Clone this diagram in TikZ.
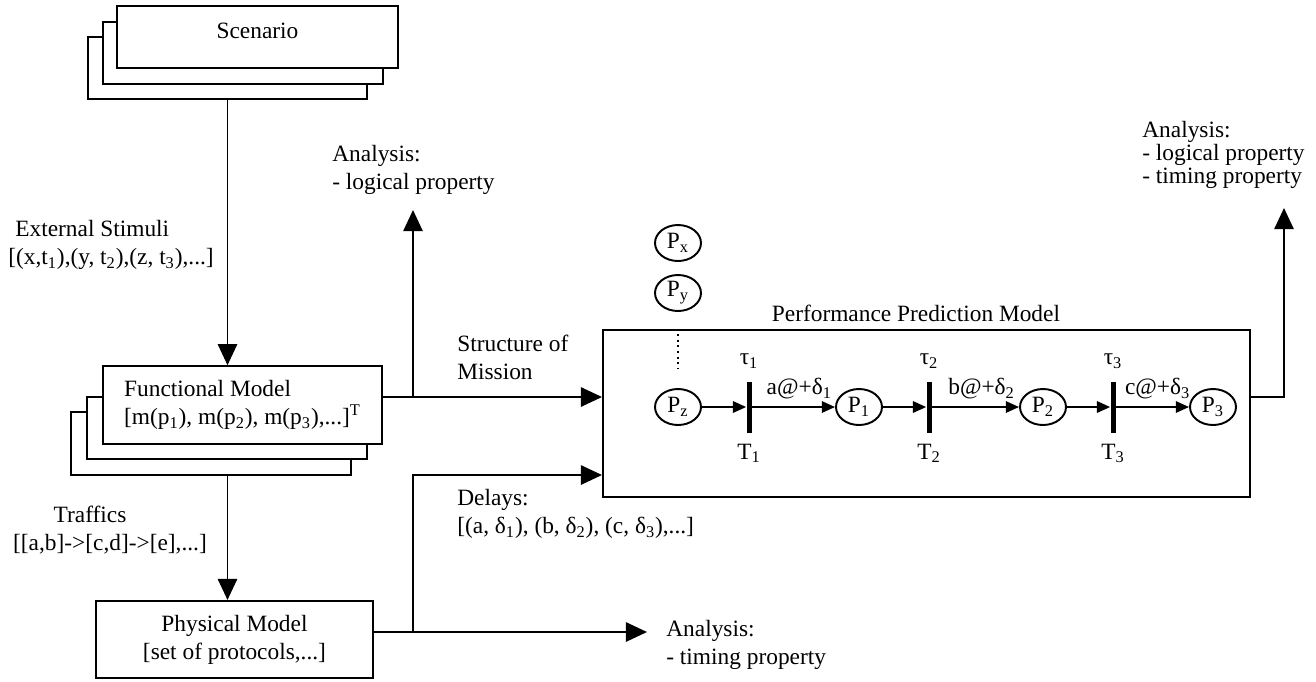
\documentclass[tikz,border=0pt]{standalone}
\usepackage{fontspec}
\setmainfont{Liberation Serif}
\usetikzlibrary{arrows.meta,positioning,shapes.geometric}

\tikzset{
  box/.style={draw,fill=white,line width=0.9pt,inner sep=0pt,align=center},
  place/.style={ellipse,draw,line width=1.1pt,minimum width=0.92cm,minimum height=0.72cm,inner sep=0pt},
  bar/.style={fill=black,minimum width=0.1cm,minimum height=1.02cm,inner sep=0pt},
  arr/.style={-{Triangle[length=12pt,width=11pt]},line width=1pt},
  parr/.style={-{Triangle[length=7.5pt,width=6.5pt]},line width=1pt},
  lbl/.style={inner sep=0pt,align=left}
}

\begin{document}
\begin{tikzpicture}[x=0.02cm,y=-0.02cm,font=\fontsize{13.3pt}{16pt}\selectfont]
\useasboundingbox (0,0) rectangle (1316,681);

\node[box,minimum width=5.58cm,minimum height=1.24cm] (scen3) at (227.5,68) {};
\node[box,minimum width=5.6cm,minimum height=1.24cm] (scen2) at (243,53) {};
\node[box,minimum width=5.62cm,minimum height=1.24cm,text depth=7pt] (scen) at (257.5,37) {Scenario};

\node[box,minimum width=5.6cm,minimum height=1.26cm] (func3) at (211,443.5) {};
\node[box,minimum width=5.6cm,minimum height=1.24cm] (func2) at (227,428) {};
\node[box,align=left,minimum width=5.58cm,minimum height=1.56cm] (func) at (242.5,405) {Functional Model\\{}[m(p\textsubscript{1}), m(p\textsubscript{2}), m(p\textsubscript{3}),...]\textsuperscript{T}};

\node[box,line width=1.2pt,minimum width=5.54cm,minimum height=1.54cm] (phys) at (234.5,639.5) {Physical Model\\{}[set of protocols,...]};

\node[box,line width=1.2pt,minimum width=12.94cm,minimum height=3.34cm] (ppm) at (926.5,413.5) {};
\node[lbl,above=4pt of ppm.north,xshift=-6pt] (ppmt) {Performance Prediction Model};

\node[lbl,anchor=west] (ext) at (8,245) {\hspace*{4pt}External Stimuli\\{}[(x,t\textsubscript{1}),(y, t\textsubscript{2}),(z, t\textsubscript{3}),...]};
\node[lbl,anchor=west] (anl1) at (332,170) {Analysis:\\- logical property};
\node[lbl,anchor=west] (strc) at (457,357) {Structure of\\Mission};
\node[lbl,anchor=west] (dly) at (457,514) {Delays:\\{}[(a, δ\textsubscript{1}), (b, δ\textsubscript{2}), (c, δ\textsubscript{3}),...]};
\node[lbl,align=center] (trf) at (110,530) {Traffics\hspace*{0.8cm}\\{}[[a,b]->[c,d]->[e],...]};
\node[lbl,anchor=west] (anl2) at (666,645) {Analysis:\\- timing property};
\node[lbl,anchor=west,font=\fontsize{13.3pt}{13pt}\selectfont] (anl3) at (1142,155) {Analysis:\\- logical property\\- timing property};

\coordinate (fsplit) at (413,397);
\coordinate (psplit) at (413,632);
\coordinate (ftip) at (413,210);
\coordinate (ptip) at (647,632);
\coordinate (rturn) at (1284,397);
\coordinate (rtip) at (1284,208);

\draw[arr] (scen3.south) -- (scen3.south |- func.north);
\draw[arr] (scen3.south |- func3.south) -- (scen3.south |- phys.north);
\draw[arr] (func.east |- fsplit) -- (fsplit -| ppm.west);
\draw[arr] (fsplit) -- (ftip);
\draw[arr] (phys.east |- psplit) -- (ptip);
\draw[arr] (psplit) |- (ppm.west |- 0,475);
\draw[arr] (ppm.east |- rturn) -- (rturn) -- (rtip);

\node[place] (px) at (678,243) {P\textsubscript{x}};
\node[place] (py) at (678,293) {P\textsubscript{y}};
\draw[dotted,line width=1.2pt] (678,334) -- (678,368);
\node[place] (pz) at (678,407) {P\textsubscript{z}};
\node[bar] (t1) at (749,407) {};
\node[place] (p1) at (859,407) {P\textsubscript{1}};
\node[bar] (t2) at (929,407) {};
\node[place] (p2) at (1043,407) {P\textsubscript{2}};
\node[bar] (t3) at (1113,407) {};
\node[place] (p3) at (1213,407) {P\textsubscript{3}};

\foreach \t/\i in {t1/1,t2/2,t3/3} {
  \node[lbl,above=7pt of \t] {τ\textsubscript{\i}};
  \node[lbl,below=6pt of \t] {T\textsubscript{\i}};
}

\draw[parr] (pz) -- (t1);
\draw[parr] (t1) -- node[lbl,above=4pt,pos=0.57] {a@+δ\textsubscript{1}} (p1);
\draw[parr] (p1) -- (t2);
\draw[parr] (t2) -- node[lbl,above=4pt,pos=0.57] {b@+δ\textsubscript{2}} (p2);
\draw[parr] (p2) -- (t3);
\draw[parr] (t3) -- node[lbl,above=4pt,pos=0.57] {c@+δ\textsubscript{3}} (p3);
\end{tikzpicture}
\end{document}
